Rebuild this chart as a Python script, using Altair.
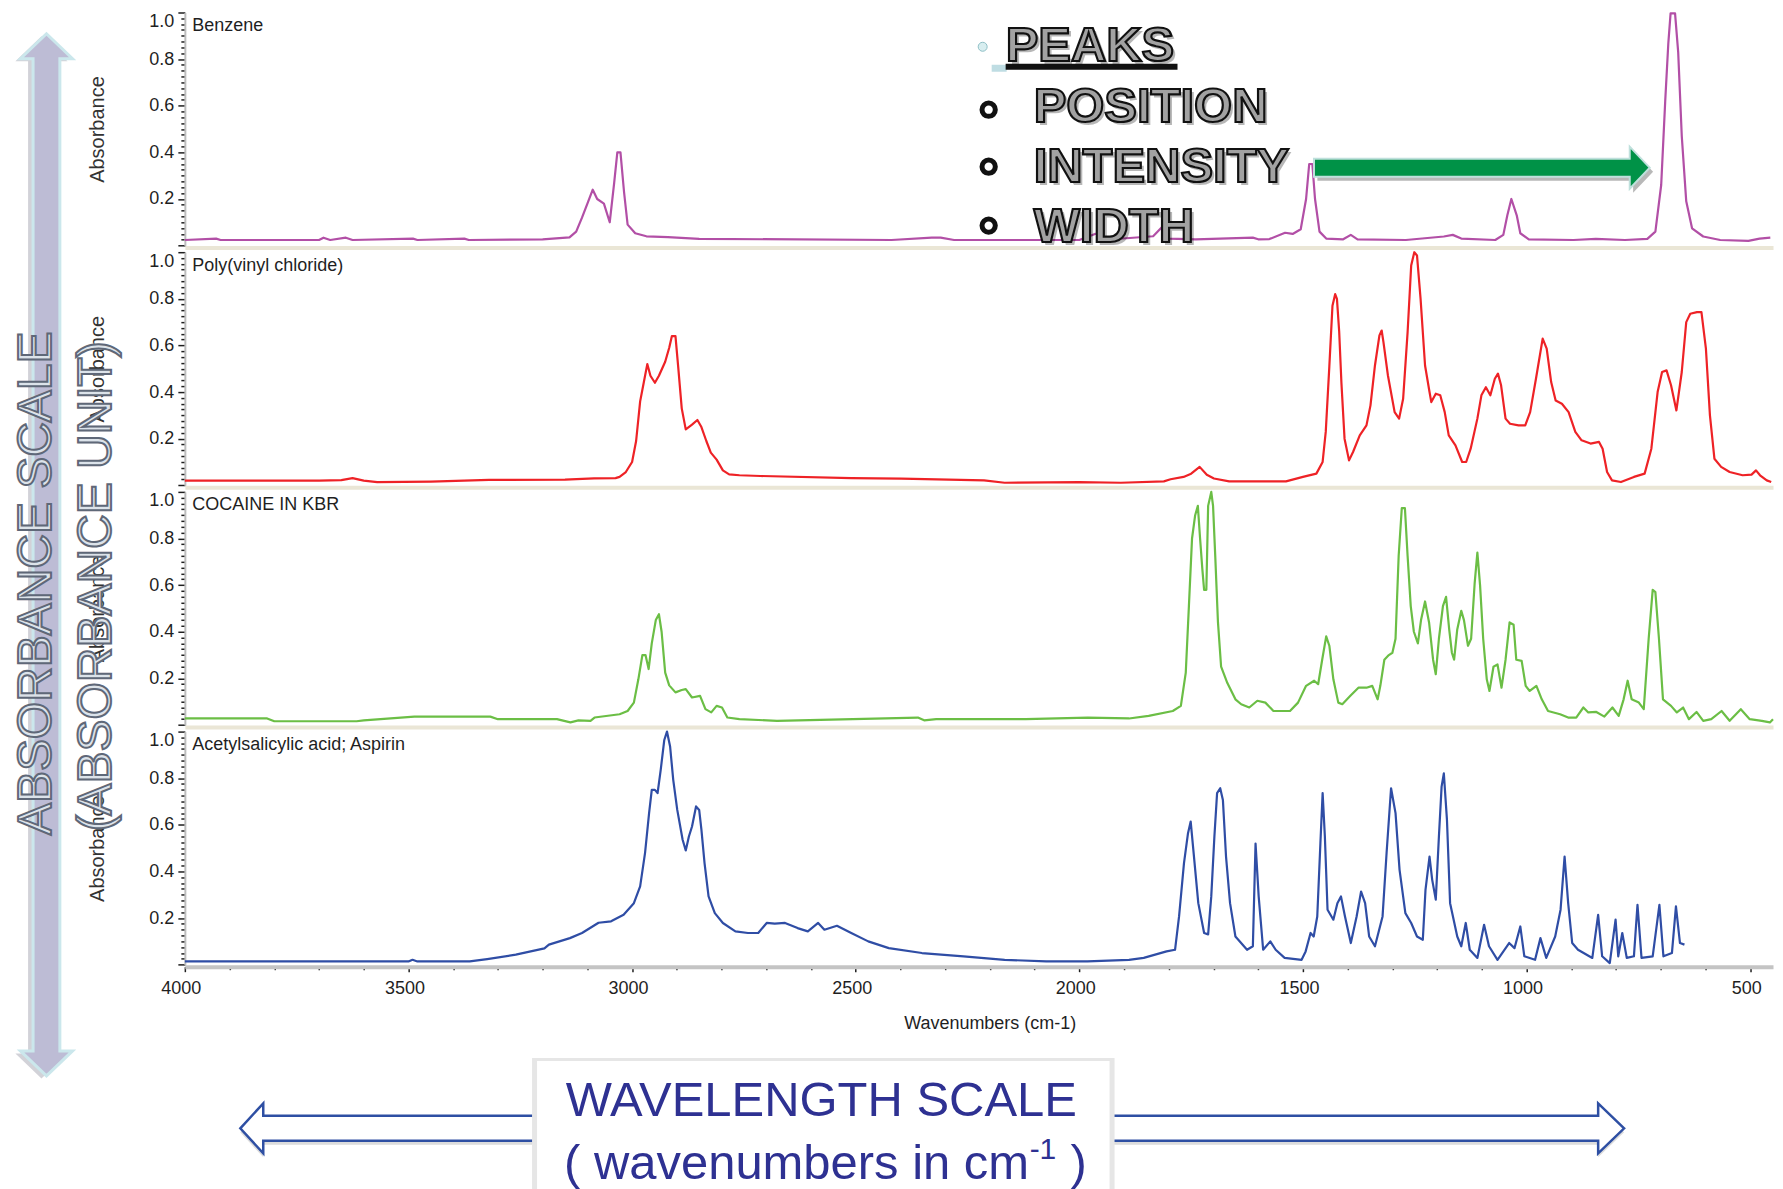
import altair as alt
import pandas as pd

# ---------------- data ----------------
benzene_wn = [4000, 3930, 3920, 3700, 3690, 3675, 3640, 3625, 3490, 3480,
              3375, 3365, 3200, 3140, 3125, 3112, 3098, 3088, 3078, 3063,
              3050, 3040, 3033, 3026, 3018, 3010, 2993, 2968, 2920, 2850,
              2420, 2330, 2310, 2280, 2000, 1965, 1955, 1940, 1835, 1815,
              1800, 1740, 1612, 1600, 1575, 1540, 1523, 1505, 1493, 1486,
              1479, 1473, 1463, 1448, 1410, 1393, 1378, 1270, 1185, 1165,
              1146, 1070, 1052, 1043, 1034, 1022, 1014, 995, 895, 845,
              780, 730, 712, 699, 690, 683, 678, 668, 661, 653,
              643, 630, 605, 567, 504, 479, 455]
benzene_abs = [0.024, 0.030, 0.024, 0.024, 0.034, 0.024, 0.034, 0.024, 0.030, 0.024,
               0.030, 0.024, 0.027, 0.035, 0.060, 0.120, 0.190, 0.240, 0.200, 0.180,
               0.100, 0.270, 0.400, 0.400, 0.230, 0.090, 0.053, 0.040, 0.036, 0.029,
               0.024, 0.034, 0.034, 0.024, 0.024, 0.050, 0.050, 0.025, 0.040, 0.080,
               0.030, 0.027, 0.034, 0.027, 0.028, 0.055, 0.050, 0.070, 0.200, 0.350,
               0.350, 0.200, 0.060, 0.030, 0.027, 0.046, 0.027, 0.024, 0.039, 0.046,
               0.030, 0.024, 0.046, 0.130, 0.200, 0.130, 0.053, 0.027, 0.024, 0.029,
               0.024, 0.029, 0.060, 0.260, 0.620, 0.870, 0.996, 0.996, 0.830, 0.470,
               0.190, 0.074, 0.039, 0.024, 0.020, 0.030, 0.034]

pvc_wn = [4000, 3700, 3650, 3625, 3600, 3570, 3450, 3320, 3150, 3085,
          3037, 3028, 3014, 3000, 2991, 2982, 2974, 2966, 2959, 2949,
          2940, 2926, 2917, 2911, 2903, 2897, 2889, 2880, 2866, 2854,
          2845, 2834, 2824, 2811, 2797, 2783, 2760, 2713, 2510, 2398,
          2213, 2167, 2000, 1907, 1811, 1796, 1767, 1750, 1731, 1715,
          1699, 1665, 1538, 1500, 1470, 1456, 1449, 1441, 1434, 1428,
          1424, 1419, 1414, 1407, 1397, 1388, 1373, 1358, 1349, 1339,
          1329, 1324, 1320, 1310, 1295, 1285, 1276, 1266, 1258, 1251,
          1245, 1237, 1227, 1217, 1213, 1203, 1193, 1183, 1174, 1159,
          1144, 1135, 1125, 1110, 1101, 1091, 1081, 1071, 1064, 1057,
          1047, 1037, 1018, 1003, 992, 979, 964, 955, 945, 935,
          921, 906, 891, 877, 857, 838, 830, 820, 809, 789,
          760, 736, 721, 707, 697, 687, 677, 665, 653, 643,
          634, 619, 609, 599, 590, 580, 565, 546, 517, 497,
          487, 478, 463, 453]
pvc_abs = [0.020, 0.020, 0.022, 0.031, 0.020, 0.014, 0.016, 0.023, 0.024, 0.030,
           0.031, 0.036, 0.057, 0.100, 0.190, 0.360, 0.440, 0.520, 0.470, 0.440,
           0.470, 0.530, 0.590, 0.640, 0.640, 0.510, 0.330, 0.240, 0.260, 0.280,
           0.250, 0.190, 0.140, 0.110, 0.064, 0.047, 0.043, 0.040, 0.031, 0.029,
           0.021, 0.011, 0.014, 0.011, 0.017, 0.026, 0.036, 0.050, 0.079, 0.045,
           0.029, 0.017, 0.017, 0.036, 0.050, 0.100, 0.230, 0.510, 0.770, 0.820,
           0.800, 0.660, 0.440, 0.200, 0.107, 0.143, 0.214, 0.257, 0.343, 0.514,
           0.643, 0.664, 0.614, 0.471, 0.314, 0.286, 0.371, 0.657, 0.943, 1.000,
           0.986, 0.800, 0.514, 0.400, 0.357, 0.393, 0.386, 0.314, 0.214, 0.171,
           0.100, 0.100, 0.157, 0.286, 0.386, 0.421, 0.386, 0.457, 0.479, 0.429,
           0.286, 0.264, 0.257, 0.257, 0.314, 0.457, 0.629, 0.586, 0.443, 0.364,
           0.350, 0.314, 0.229, 0.193, 0.179, 0.186, 0.157, 0.057, 0.021, 0.014,
           0.036, 0.050, 0.157, 0.400, 0.486, 0.493, 0.429, 0.321, 0.486, 0.700,
           0.736, 0.743, 0.743, 0.586, 0.300, 0.114, 0.079, 0.057, 0.043, 0.046,
           0.064, 0.043, 0.021, 0.014]

cocaine_wn = [4000, 3990, 3816, 3800, 3616, 3600, 3487, 3317, 3300, 3168,
              3138, 3120, 3093, 3084, 3028, 3010, 2996, 2986, 2977, 2970,
              2963, 2956, 2947, 2940, 2934, 2926, 2917, 2903, 2889, 2880,
              2866, 2848, 2836, 2823, 2811, 2799, 2787, 2760, 2676, 2361,
              2347, 2320, 2120, 1981, 1889, 1845, 1791, 1773, 1762, 1755,
              1748, 1741, 1735, 1730, 1725, 1721, 1716, 1712, 1705, 1701,
              1696, 1690, 1683, 1669, 1651, 1638, 1620, 1602, 1584, 1566,
              1529, 1511, 1493, 1475, 1466, 1457, 1448, 1441, 1432, 1421,
              1412, 1394, 1376, 1358, 1345, 1333, 1327, 1318, 1308, 1300,
              1293, 1286, 1279, 1272, 1266, 1259, 1252, 1243, 1236, 1227,
              1218, 1209, 1203, 1196, 1187, 1180, 1173, 1167, 1162, 1155,
              1146, 1140, 1131, 1124, 1116, 1110, 1104, 1097, 1089, 1083,
              1074, 1065, 1056, 1047, 1038, 1029, 1023, 1011, 1002, 993,
              978, 966, 952, 925, 907, 889, 873, 862, 844, 826,
              808, 794, 783, 774, 765, 749, 738, 727, 718, 712,
              704, 695, 686, 677, 664, 650, 637, 620, 605, 587,
              564, 546, 521, 501, 474, 456, 449]
cocaine_abs = [0.028, 0.028, 0.028, 0.016, 0.016, 0.020, 0.036, 0.036, 0.025, 0.025,
               0.011, 0.020, 0.018, 0.032, 0.046, 0.060, 0.096, 0.196, 0.300, 0.300,
               0.240, 0.350, 0.450, 0.475, 0.400, 0.225, 0.170, 0.140, 0.150, 0.154,
               0.118, 0.125, 0.068, 0.054, 0.082, 0.075, 0.032, 0.025, 0.018, 0.032,
               0.020, 0.025, 0.025, 0.032, 0.028, 0.039, 0.060, 0.082, 0.225, 0.510,
               0.800, 0.900, 0.940, 0.800, 0.670, 0.580, 0.580, 0.940, 1.000, 0.940,
               0.720, 0.440, 0.250, 0.180, 0.110, 0.089, 0.075, 0.104, 0.096, 0.060,
               0.060, 0.096, 0.168, 0.190, 0.175, 0.280, 0.380, 0.340, 0.196, 0.096,
               0.089, 0.125, 0.160, 0.160, 0.168, 0.110, 0.168, 0.280, 0.300, 0.310,
               0.370, 0.725, 0.930, 0.930, 0.725, 0.510, 0.400, 0.350, 0.450, 0.530,
               0.440, 0.280, 0.218, 0.370, 0.510, 0.550, 0.410, 0.310, 0.280, 0.410,
               0.490, 0.450, 0.340, 0.370, 0.610, 0.740, 0.600, 0.370, 0.196, 0.146,
               0.250, 0.260, 0.160, 0.280, 0.440, 0.430, 0.280, 0.275, 0.168, 0.146,
               0.168, 0.110, 0.060, 0.046, 0.032, 0.032, 0.075, 0.054, 0.056, 0.036,
               0.075, 0.039, 0.110, 0.190, 0.110, 0.096, 0.068, 0.370, 0.580, 0.570,
               0.370, 0.110, 0.096, 0.082, 0.054, 0.075, 0.025, 0.056, 0.018, 0.025,
               0.060, 0.018, 0.068, 0.025, 0.018, 0.011, 0.025]

aspirin_wn = [4000, 3500, 3491, 3480, 3363, 3324, 3260, 3196, 3186, 3139,
              3112, 3075, 3047, 3019, 2996, 2982, 2971, 2962, 2956, 2949,
              2943, 2936, 2928, 2922, 2915, 2908, 2899, 2887, 2880, 2873,
              2866, 2857, 2850, 2845, 2838, 2829, 2815, 2797, 2769, 2741,
              2718, 2699, 2681, 2658, 2630, 2607, 2584, 2570, 2542, 2510,
              2472, 2426, 2352, 2259, 2167, 2074, 1982, 1889, 1856, 1805,
              1786, 1777, 1766, 1757, 1751, 1743, 1734, 1721, 1712, 1705,
              1698, 1692, 1685, 1679, 1672, 1663, 1651, 1625, 1612, 1606,
              1599, 1589, 1573, 1561, 1541, 1503, 1494, 1483, 1476, 1468,
              1461, 1456, 1451, 1445, 1432, 1423, 1415, 1406, 1393, 1380,
              1370, 1361, 1352, 1339, 1322, 1313, 1303, 1293, 1284, 1271,
              1258, 1245, 1232, 1226, 1217, 1211, 1203, 1196, 1190, 1185,
              1178, 1171, 1155, 1146, 1136, 1127, 1110, 1095, 1084, 1065,
              1039, 1027, 1014, 1005, 981, 969, 956, 936, 924, 915,
              907, 898, 885, 853, 840, 831, 814, 801, 795, 786,
              776, 760, 752, 743, 718, 703, 694, 675, 666, 657,
              647]
aspirin_abs = [0.014, 0.014, 0.021, 0.014, 0.014, 0.024, 0.043, 0.070, 0.086, 0.114,
               0.136, 0.180, 0.186, 0.214, 0.264, 0.336, 0.480, 0.650, 0.750, 0.750,
               0.736, 0.836, 0.964, 1.000, 0.936, 0.793, 0.664, 0.536, 0.490, 0.550,
               0.593, 0.679, 0.664, 0.579, 0.436, 0.293, 0.221, 0.179, 0.143, 0.136,
               0.136, 0.179, 0.176, 0.179, 0.157, 0.143, 0.179, 0.150, 0.167, 0.136,
               0.100, 0.071, 0.050, 0.036, 0.021, 0.014, 0.014, 0.021, 0.029, 0.057,
               0.064, 0.207, 0.436, 0.564, 0.614, 0.450, 0.264, 0.136, 0.130, 0.293,
               0.550, 0.736, 0.757, 0.707, 0.464, 0.264, 0.121, 0.064, 0.079, 0.520,
               0.293, 0.064, 0.100, 0.064, 0.029, 0.021, 0.057, 0.136, 0.121, 0.207,
               0.520, 0.736, 0.550, 0.236, 0.193, 0.264, 0.293, 0.207, 0.093, 0.207,
               0.314, 0.264, 0.121, 0.079, 0.207, 0.479, 0.757, 0.650, 0.407, 0.221,
               0.179, 0.121, 0.107, 0.321, 0.464, 0.364, 0.279, 0.550, 0.764, 0.821,
               0.621, 0.264, 0.121, 0.079, 0.179, 0.064, 0.029, 0.171, 0.079, 0.021,
               0.093, 0.071, 0.164, 0.036, 0.021, 0.114, 0.029, 0.121, 0.236, 0.464,
               0.264, 0.093, 0.064, 0.029, 0.214, 0.036, 0.007, 0.193, 0.036, 0.136,
               0.029, 0.036, 0.257, 0.029, 0.036, 0.257, 0.036, 0.050, 0.250, 0.093,
               0.086]

panel_names = ["Benzene", "Poly(vinyl chloride)", "COCAINE IN KBR",
               "Acetylsalicylic acid; Aspirin"]
x_title = "Wavenumbers (cm-1)"
y_title = "Absorbance"

assert len(benzene_wn) == len(benzene_abs)
assert len(pvc_wn) == len(pvc_abs)
assert len(cocaine_wn) == len(cocaine_abs)
assert len(aspirin_wn) == len(aspirin_abs)

# ---------------- styling / layout ----------------
FONT = "Liberation Sans"
INK = "#1f1f1f"
COLORS = ["#B24FA6", "#EE2226", "#6BBE45", "#2F4DA5"]
W_PLOT = 1589.5
H_PANEL = 233.3
GAP = 5.9
X_DOMAIN = [4000, 449]
OX, OY = 185.5, 728.4          # page position of the last panel's origin
ONE = pd.DataFrame({"k": [0]})

MAJOR_Y = "abs(datum.value * 5 - round(datum.value * 5)) < 0.001"
y_ticks = [round(i * 0.025, 3) for i in range(41)]
x_ticks = list(range(500, 4001, 100))

XSCALE = alt.Scale(domain=X_DOMAIN, nice=False, zero=False)
YSCALE = alt.Scale(domain=[0, 1], nice=False, zero=True)


def y_axis():
    return alt.Axis(
        values=y_ticks,
        labelExpr=f"(({MAJOR_Y}) && datum.value > 0.01) ? format(datum.value, '.1f') : ''",
        tickSize={"condition": {"test": MAJOR_Y, "value": 7}, "value": 4},
        tickWidth=1.5, tickColor=INK,
        domainColor="#BDBDBD", domainWidth=2,
        labelFont=FONT, labelFontSize=18, labelColor=INK, labelPadding=4,
        labelBaseline={"condition": {"test": "datum.value > 0.99", "value": "top"},
                       "value": "middle"},
        labelOverlap=False, labelFlush=False, grid=False,
        title=y_title, titleFont=FONT, titleFontSize=20, titleFontWeight="normal",
        titleColor="#333333", titleAngle=270, titleX=-87, titleY=H_PANEL / 2,
        titleAlign="center", titleBaseline="middle")


def x_axis(bottom):
    if not bottom:
        return alt.Axis(labels=False, ticks=False, title=None, grid=False,
                        domainColor="#EAE6D6", domainWidth=4, offset=2)
    return alt.Axis(
        values=x_ticks,
        labelExpr="datum.value % 500 == 0 ? format(datum.value, 'd') : ''",
        tickSize={"condition": {"test": "datum.value % 500 == 0", "value": 5}, "value": 3},
        tickWidth=1.5, tickColor=INK,
        domainColor="#C4C4C4", domainWidth=4, offset=2,
        labelFont=FONT, labelFontSize=18, labelColor=INK, labelPadding=8,
        labelOffset=-4, labelOverlap=False, labelFlush=False, grid=False,
        title=x_title, titleFont=FONT, titleFontSize=18, titleFontWeight="normal",
        titleColor=INK, titleX=805.5, titleY=57, titleAlign="center",
        titleBaseline="middle")


def panel(wn, ab, color, name, bottom=False):
    df = pd.DataFrame({"wn": wn, "A": ab})
    line = alt.Chart(df).mark_line(color=color, strokeWidth=2.2, strokeJoin="round").encode(
        x=alt.X("wn:Q", scale=XSCALE, axis=x_axis(bottom)),
        y=alt.Y("A:Q", scale=YSCALE, axis=y_axis()),
    )
    label = alt.Chart(ONE).mark_text(
        text=name, align="left", baseline="middle", font=FONT, fontSize=18,
        color=INK).encode(x=alt.value(7.5), y=alt.value(13.5))
    return [line, label]


# ----- overlay helpers (page coordinates converted to last-panel coordinates) -----
def T(s, x, y, size, **kw):
    return alt.Chart(ONE).mark_text(text=s, fontSize=size, font=FONT, **kw).encode(
        x=alt.value(x - OX), y=alt.value(y - OY))


def S(path, cx, cy, side, **kw):
    return alt.Chart(ONE).mark_point(shape=path, size=side * side, filled=True,
                                     opacity=1, **kw).encode(
        x=alt.value(cx - OX), y=alt.value(cy - OY))


def R(x1, x2, y1, y2, **kw):
    return alt.Chart(ONE).mark_rect(**kw).encode(
        x=alt.value(x1 - OX), x2=alt.value(x2 - OX),
        y=alt.value(y1 - OY), y2=alt.value(y2 - OY))


VPATH = ("M0,-1L0.05,-0.952L0.0257,-0.952L0.0257,0.952L0.05,0.952L0,1"
         "L-0.05,0.952L-0.0257,0.952L-0.0257,-0.952L-0.05,-0.952Z")
GPATH = "M-1,-0.0536L0.881,-0.0536L0.881,-0.125L1,0L0.881,0.125L0.881,0.0536L-1,0.0536Z"
LPATH = "M-1,0L-0.856,-0.1567L-0.856,-0.0784L1,-0.0784L1,0.0784L-0.856,0.0784L-0.856,0.1567Z"
RPATH = "M1,0L0.903,-0.0933L0.903,-0.0466L-1,-0.0466L-1,0.0466L0.903,0.0466L0.903,0.0933Z"

anchor = alt.Chart(ONE).mark_rule(opacity=0).encode(
    x=alt.value(8.5 - OX), y=alt.value(0), y2=alt.value(1))

GRAYTXT = dict(fill="#A2A2A2", stroke="#111111", strokeWidth=2.2,
               fontWeight="bold", align="left", baseline="alphabetic")
SHADOW = dict(fill="#000000", opacity=0.28, fontWeight="bold", align="left",
              baseline="alphabetic")
WORDART = dict(fill="#DCE3EA", stroke="#5F6878", strokeWidth=2, angle=270,
               align="center", baseline="middle")
NAVY = "#2E3192"

overlays = [
    anchor,
    # vertical absorbance arrow
    S(VPATH, 42, 554, 1043, fill="#7D7D90", fillOpacity=0.35, strokeOpacity=0),
    S(VPATH, 47, 551.5, 1043, fill="#BDBCD5", stroke="#CBE7EC", strokeWidth=3),
    T("ABSORBANCE SCALE", 37.5, 580, 48, **WORDART),
    T("(ABSORBANCE UNIT)", 98, 583, 48, **WORDART),
    # PEAKS block
    S("circle", 984, 43, 9, fill="#D8EEF0", stroke="#8FBFC6", strokeWidth=1),
    T("PEAKS", 1010, 60, 49, **SHADOW),
    T("POSITION", 1038, 121, 49, **SHADOW),
    T("INTENSITY", 1038, 181, 49, **SHADOW),
    T("WIDTH", 1038, 241, 49, **SHADOW),
    T("PEAKS", 1007, 57, 49, **GRAYTXT),
    R(993, 1008, 61, 68, fill="#BFDDE3"),
    R(1007, 1179, 60, 66, fill="#111111"),
    T("POSITION", 1035, 118, 49, **GRAYTXT),
    T("INTENSITY", 1035, 178, 49, **GRAYTXT),
    T("WIDTH", 1035, 238, 49, **GRAYTXT),
] + [
    alt.Chart(ONE).mark_point(shape="circle", size=177, filled=False, stroke="#111111",
                              strokeWidth=5, opacity=1).encode(
        x=alt.value(990 - OX), y=alt.value(yy - OY))
    for yy in (106, 163, 222)
] + [
    # green arrow
    S(GPATH, 1487, 168, 336, fill="#333333", fillOpacity=0.35, strokeOpacity=0),
    S(GPATH, 1483.6, 164, 336, fill="#009247", stroke="#BFE0DC", strokeWidth=2),
    # wavelength arrows and box
    S(LPATH, 400.5, 1129.5, 319, fill="#8C8C8C", fillOpacity=0.3, strokeOpacity=0),
    S(RPATH, 1358, 1129.5, 536, fill="#8C8C8C", fillOpacity=0.3, strokeOpacity=0),
    S(LPATH, 400.5, 1125.5, 319, fill="#FFFFFF", stroke="#2E4FA3", strokeWidth=2.5),
    S(RPATH, 1358, 1125.5, 536, fill="#FFFFFF", stroke="#2E4FA3", strokeWidth=2.5),
    R(533, 1116, 1055, 1189, fill="#E6E6E6"),
    R(538, 1111, 1058, 1189, fill="#FFFFFF"),
    T("WAVELENGTH SCALE", 822.5, 1113, 49, fill=NAVY, align="center",
      baseline="alphabetic"),
    T("( wavenumbers in cm", 565, 1176, 49, fill=NAVY, align="left",
      baseline="alphabetic"),
    T("-1", 1031, 1156, 30, fill=NAVY, align="left", baseline="alphabetic"),
    T(")", 1072, 1176, 49, fill=NAVY, align="left", baseline="alphabetic"),
]

p1 = alt.layer(*panel(benzene_wn, benzene_abs, COLORS[0], panel_names[0])).properties(
    width=W_PLOT, height=H_PANEL)
p2 = alt.layer(*panel(pvc_wn, pvc_abs, COLORS[1], panel_names[1])).properties(
    width=W_PLOT, height=H_PANEL)
p3 = alt.layer(*panel(cocaine_wn, cocaine_abs, COLORS[2], panel_names[2])).properties(
    width=W_PLOT, height=H_PANEL)
p4 = alt.layer(*panel(aspirin_wn, aspirin_abs, COLORS[3], panel_names[3], bottom=True),
               *overlays).properties(width=W_PLOT, height=H_PANEL)

chart = alt.vconcat(p1, p2, p3, p4, spacing=GAP, bounds="flush").resolve_scale(
    x="independent", y="independent").properties(
    padding={"left": 0, "top": 0, "right": 0, "bottom": 0},
    background="white").configure_view(stroke=None)

chart.save("out.html", embed_options={"renderer": "svg", "actions": False})
